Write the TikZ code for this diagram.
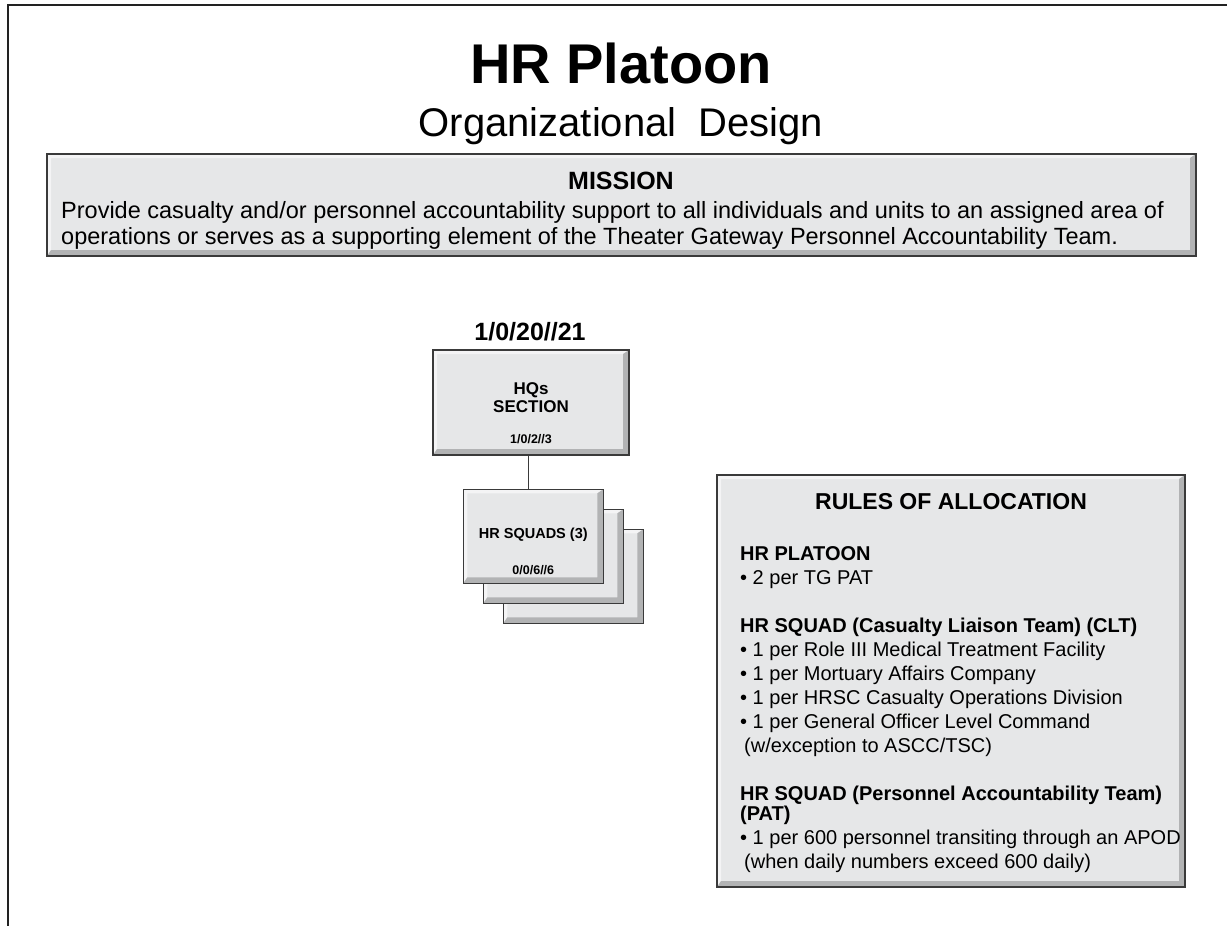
\documentclass[tikz,border=0pt]{standalone}
\usepackage{fontspec}
\setmainfont{Liberation Sans}
\usetikzlibrary{positioning}
\tikzstyle{bevel} = [
    rectangle,
    draw=edgegray,
    line width=1.2pt,
    fill=boxfill,
    path picture={
        \coordinate (bnw) at (path picture bounding box.north west);
        \coordinate (bse) at (path picture bounding box.south east);
        \fill[boxlight] (bnw) -- (bnw -| bse) -- ([xshift=-6pt,yshift=-4pt]bnw -| bse)
            -- ([xshift=4pt,yshift=-4pt]bnw) -- ([xshift=4pt,yshift=6pt]bnw |- bse)
            -- (bnw |- bse) -- cycle;
        \fill[boxdark] (bse) -- (bnw |- bse) -- ([xshift=4pt,yshift=6pt]bnw |- bse)
            -- ([xshift=-6pt,yshift=6pt]bse) -- ([xshift=-6pt,yshift=-4pt]bnw -| bse)
            -- (bnw -| bse) -- cycle;
    },
]
\tikzstyle{squadbox} = [bevel, minimum width=140pt, minimum height=94pt]
\tikzstyle{unittext} = [inner sep=0pt, align=center, font=\fontsize{17}{17.5}\selectfont\bfseries]
\tikzstyle{numtext} = [inner sep=0pt, font=\fontsize{12.5}{13}\selectfont\bfseries]
\tikzstyle{link} = [line width=1pt, draw=edgegray]
\tikzstyle{frame} = [line width=2.5pt, draw=framegray]
\definecolor{boxfill}{HTML}{E6E7E8}
\definecolor{boxlight}{HTML}{F4F4F5}
\definecolor{boxdark}{HTML}{B2B3B4}
\definecolor{edgegray}{HTML}{3A3A3A}
\definecolor{framegray}{HTML}{222222}
\begin{document}
\begin{tikzpicture}[x=1pt, y=-1pt]
    \useasboundingbox (0,0) rectangle (1227,926);
    \draw [frame] (8,926) -- (8,5) -- (1227,5);

    % heading
    \node (title) [anchor=base] at (621,83.5)
        {\fontsize{56}{60}\selectfont\bfseries HR Platoon};
    \node (subtitle) [anchor=base] at (621,136.5)
        {\fontsize{40}{44}\selectfont Organizational\ \ Design};

    % mission
    \node (mission) [bevel, minimum width=1149pt, minimum height=102pt] at (621.5,205) {};
    \node (missionhead) [anchor=base] at (621,189)
        {\fontsize{25}{25}\selectfont\bfseries MISSION};
    % multi-line nodes: base is the last line
    \node (missiontext) [anchor=base west, align=left, inner sep=0pt,
        font=\fontsize{23.5}{26}\selectfont] at (61,244) {
        Provide casualty and/or personnel accountability support to all individuals and units to an assigned area of\\
        operations or serves as a supporting element of the Theater Gateway Personnel Accountability Team.
    };

    % platoon structure
    \node (strength) [anchor=base] at (530,340.5)
        {\fontsize{25}{25}\selectfont\bfseries 1/0/20//21};
    \node (hq) [bevel, minimum width=196pt, minimum height=105pt] at (531,402.5) {};
    \node (hqname) [unittext] at ([yshift=5pt]hq.center) {HQs\\SECTION};
    \node (hqnum) [numtext, anchor=base] at ([yshift=11.7pt]hq.south) {1/0/2//3};

    % squads, back to front
    \node (sq3) [squadbox] at (573.3,576.3) {};
    \node (sq2) [squadbox] at (553.3,556.3) {};
    \node (sq1) [squadbox] at (533.3,536.3) {};
    \node (sqname) [unittext, anchor=base, font=\fontsize{14.5}{15}\selectfont\bfseries]
        at ([yshift=-2.2pt]sq1.center) {HR SQUADS (3)};
    \node (sqnum) [numtext, anchor=base] at ([yshift=9.3pt]sq1.south) {0/0/6//6};

    \draw [link] ([xshift=-3pt]hq.south) -- ([xshift=-3pt]hq.south |- sq1.north);

    % rules of allocation
    \node (rules) [bevel, minimum width=468pt, minimum height=412pt] at (951,681) {};
    \node (ruleshead) [anchor=base] at (951,509.3)
        {\fontsize{23}{23}\selectfont\bfseries RULES OF ALLOCATION};
    \node (rulestext) [anchor=base west, align=left, inner sep=0pt,
        font=\fontsize{20}{24}\selectfont] at (740,868.3) {
        {\bfseries HR PLATOON}\\
        • 2 per TG PAT\\[24pt]
        {\bfseries HR SQUAD (Casualty Liaison Team) (CLT)}\\
        • 1 per Role III Medical Treatment Facility\\
        • 1 per Mortuary Affairs Company\\
        • 1 per HRSC Casualty Operations Division\\
        • 1 per General Officer Level Command\\
        \hspace{4pt}(w/exception to ASCC/TSC)\\[24pt]
        {\bfseries HR SQUAD (Personnel Accountability Team)}\\[-4pt]
        {\bfseries (PAT)}\\
        • 1 per 600 personnel transiting through an APOD\\
        \hspace{4pt}(when daily numbers exceed 600 daily)
    };
\end{tikzpicture}
\end{document}
